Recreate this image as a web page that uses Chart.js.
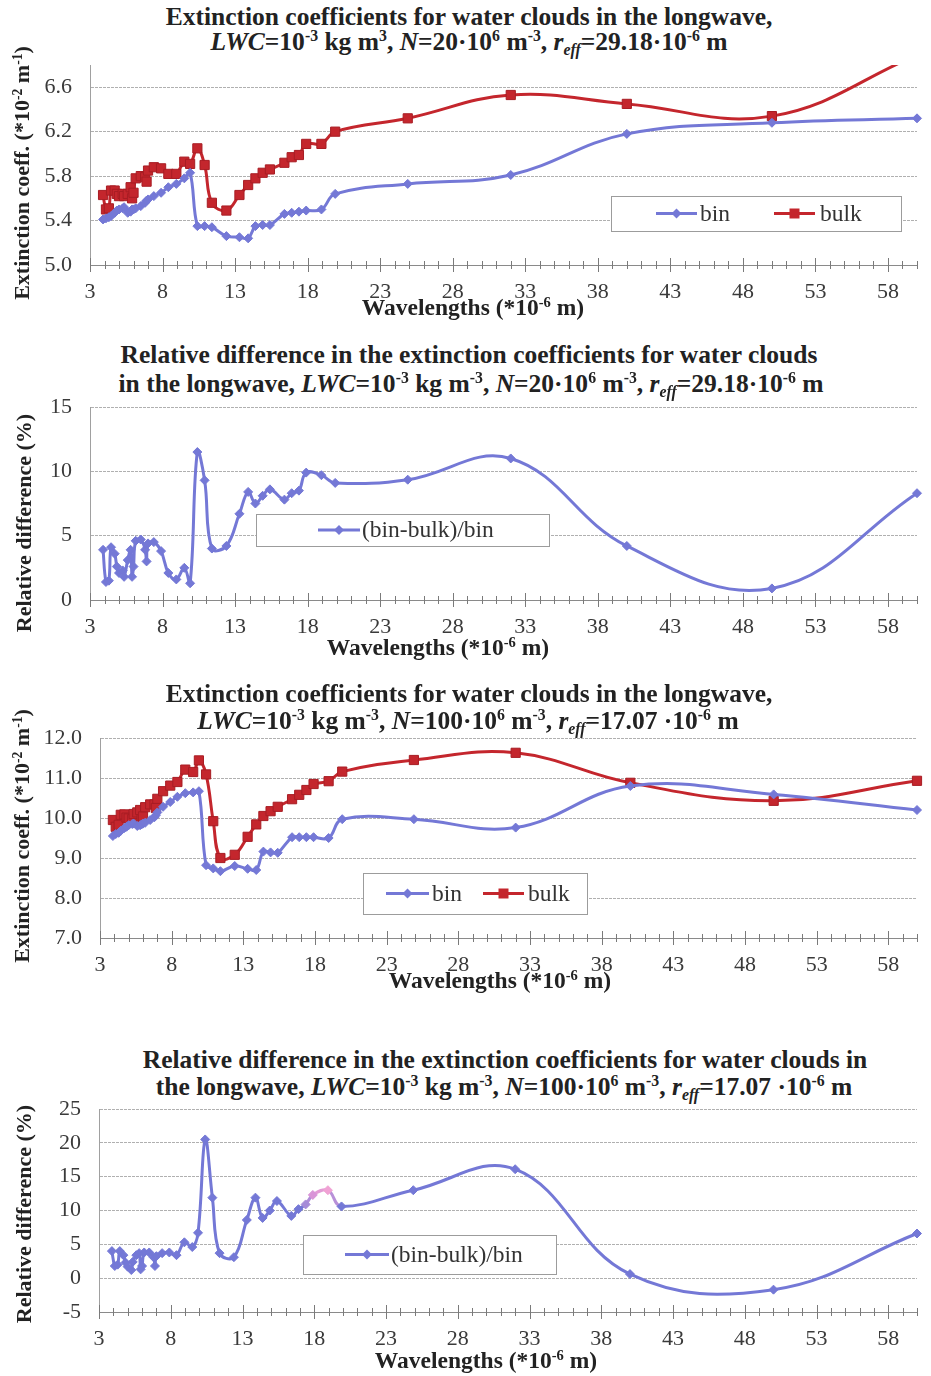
<!DOCTYPE html>
<html lang="en">
<head>
<meta charset="UTF-8">
<title>Extinction coefficients for water clouds in the longwave</title>
<script src="https://cdn.jsdelivr.net/npm/chart.js"></script>
<style>
  body { margin: 0; background: #fff; }
  #page { position: relative; width: 931px; height: 1376px; overflow: hidden;
          font-family: "Liberation Serif", "Times New Roman", serif; color: #222; }
  canvas { position: absolute; left: 0; }
  .t  { position: absolute; width: 900px; text-align: center; white-space: nowrap;
        font-weight: bold; font-size: 25.5px; line-height: 25px; }
  .xt { position: absolute; width: 400px; text-align: center; white-space: nowrap;
        font-weight: bold; font-size: 23.5px; line-height: 22px; }
  .yt { position: absolute; width: 320px; height: 22px; text-align: center; white-space: nowrap;
        font-weight: bold; font-size: 22px; line-height: 22px; transform: rotate(-90deg); }
  sup, sub { font-size: 0.62em; line-height: 0; position: relative; vertical-align: baseline; }
  sup { top: -0.55em; }
  sub { top: 0.3em; }
</style>
</head>
<body>
<div id="page">
  <!-- panel 1 -->
  <div class="t" style="left:19px;top:4px">Extinction coefficients for water clouds in the longwave,</div>
  <div class="t" style="left:19px;top:29px"><i>LWC</i>=10<sup>-3</sup> kg m<sup>3</sup>, <i>N</i>=20·10<sup>6</sup> m<sup>-3</sup>, <i>r<sub>eff</sub></i>=29.18·10<sup>-6</sup> m</div>
  <canvas id="c1" width="931" height="320" style="top:0;width:931px;height:320px"></canvas>
  <div class="yt" style="left:-138px;top:162px">Extinction coeff. (*10<sup>-2</sup> m<sup>-1</sup>)</div>
  <div class="xt" style="left:273px;top:296px">Wavelengths (*10<sup>-6</sup> m)</div>

  <!-- panel 2 -->
  <div class="t" style="left:19px;top:342px">Relative difference in the extinction coefficients for water clouds</div>
  <div class="t" style="left:21px;top:371px">in the longwave, <i>LWC</i>=10<sup>-3</sup> kg m<sup>-3</sup>, <i>N</i>=20·10<sup>6</sup> m<sup>-3</sup>, <i>r<sub>eff</sub></i>=29.18·10<sup>-6</sup> m</div>
  <canvas id="c2" width="931" height="330" style="top:330px;width:931px;height:330px"></canvas>
  <div class="yt" style="left:-136px;top:512px">Relative difference (%)</div>
  <div class="xt" style="left:238px;top:636px">Wavelengths (*10<sup>-6</sup> m)</div>

  <!-- panel 3 -->
  <div class="t" style="left:19px;top:681px">Extinction coefficients for water clouds in the longwave,</div>
  <div class="t" style="left:18px;top:708px"><i>LWC</i>=10<sup>-3</sup> kg m<sup>-3</sup>, <i>N</i>=100·10<sup>6</sup> m<sup>-3</sup>, <i>r<sub>eff</sub></i>=17.07 ·10<sup>-6</sup> m</div>
  <canvas id="c3" width="931" height="330" style="top:670px;width:931px;height:330px"></canvas>
  <div class="yt" style="left:-138px;top:825px">Extinction coeff. (*10<sup>-2</sup> m<sup>-1</sup>)</div>
  <div class="xt" style="left:300px;top:969px">Wavelengths (*10<sup>-6</sup> m)</div>

  <!-- panel 4 -->
  <div class="t" style="left:55px;top:1047px">Relative difference in the extinction coefficients for water clouds in</div>
  <div class="t" style="left:54px;top:1074px">the longwave, <i>LWC</i>=10<sup>-3</sup> kg m<sup>-3</sup>, <i>N</i>=100·10<sup>6</sup> m<sup>-3</sup>, <i>r<sub>eff</sub></i>=17.07 ·10<sup>-6</sup> m</div>
  <canvas id="c4" width="931" height="336" style="top:1040px;width:931px;height:336px"></canvas>
  <div class="yt" style="left:-136px;top:1203px">Relative difference (%)</div>
  <div class="xt" style="left:286px;top:1349px">Wavelengths (*10<sup>-6</sup> m)</div>
</div>

<script>
// wavelength grid (*10^-6 m), shared by every panel
const wavelengths = [3.9, 4.1, 4.3, 4.45, 4.7, 4.85, 5.0, 5.25, 5.35, 5.6, 5.8, 5.9, 6.0, 6.15, 6.5,
  6.8, 6.9, 7.0, 7.4, 7.9, 8.4, 8.95, 9.5, 9.9, 10.4, 10.9, 11.4, 12.4, 13.3, 13.9, 14.4, 14.9,
  15.4, 16.4, 16.9, 17.4, 17.9, 18.95, 19.9, 24.9, 32, 40, 50, 60];

// N = 20e6 m^-3, r_eff = 29.18 um
const bin20 = [5.41, 5.42, 5.43, 5.44, 5.47, 5.49, 5.50, 5.51, 5.52, 5.47, 5.48, 5.50, 5.50, 5.51, 5.53,
  5.56, 5.58, 5.59, 5.62, 5.65, 5.70, 5.73, 5.78, 5.83, 5.35, 5.35, 5.34, 5.26, 5.25, 5.24, 5.35, 5.36,
  5.36, 5.46, 5.47, 5.48, 5.49, 5.50, 5.64, 5.73, 5.81, 6.18, 6.28, 6.32];
const bulk20 = [5.63, 5.50, 5.51, 5.67, 5.67, 5.64, 5.62, 5.64, 5.62, 5.64, 5.70, 5.60, 5.65, 5.78, 5.80,
  5.79, 5.75, 5.85, 5.88, 5.87, 5.82, 5.82, 5.93, 5.91, 6.05, 5.90, 5.56, 5.49, 5.63, 5.72, 5.78, 5.83,
  5.86, 5.92, 5.97, 5.99, 6.09, 6.09, 6.20, 6.32, 6.53, 6.45, 6.34, 6.89];
const rel20 = [3.9, 1.4, 1.5, 4.1, 3.6, 2.6, 2.1, 2.3, 1.8, 3.1, 3.9, 1.8, 2.6, 4.6, 4.7,
  3.9, 3.0, 4.4, 4.5, 3.8, 2.1, 1.6, 2.5, 1.3, 11.5, 9.3, 4.0, 4.2, 6.7, 8.4, 7.5, 8.1,
  8.6, 7.8, 8.3, 8.5, 9.9, 9.7, 9.1, 9.35, 11.0, 4.2, 0.9, 8.3];

// N = 100e6 m^-3, r_eff = 17.07 um
const bin100 = [9.55, 9.60, 9.63, 9.68, 9.75, 9.78, 9.82, 9.85, 9.86, 9.80, 9.82, 9.84, 9.86, 9.88, 9.95,
  10.02, 10.07, 10.14, 10.28, 10.40, 10.53, 10.62, 10.64, 10.67, 8.82, 8.74, 8.67, 8.80, 8.73, 8.70, 9.16, 9.14,
  9.13, 9.52, 9.52, 9.52, 9.52, 9.50, 9.97, 9.97, 9.76, 10.80, 10.59, 10.20];
const bulk100 = [9.95, 9.78, 9.83, 10.08, 10.09, 10.01, 9.99, 9.97, 10.10, 10.14, 10.20, 9.97, 10.04, 10.27, 10.34,
  10.34, 10.25, 10.48, 10.67, 10.81, 10.90, 11.21, 11.15, 11.44, 11.09, 9.92, 9.00, 9.08, 9.53, 9.84, 10.05, 10.17,
  10.28, 10.47, 10.58, 10.70, 10.85, 10.92, 11.16, 11.45, 11.63, 10.88, 10.43, 10.93];
const rel100 = [4.0, 1.8, 2.0, 4.0, 3.4, 2.3, 1.7, 1.2, 2.4, 3.4, 3.7, 1.3, 1.8, 3.8, 3.8,
  3.1, 1.8, 3.25, 3.7, 3.8, 3.4, 5.3, 4.6, 6.7, 20.5, 11.9, 3.7, 3.1, 8.6, 11.9, 8.9, 10.0,
  11.4, 9.2, 10.2, 10.9, 12.3, 13.0, 10.6, 13.0, 16.1, 0.6, -1.7, 6.6];

// labelled ticks
const xLabels = [3, 8, 13, 18, 23, 28, 33, 38, 43, 48, 53, 58];
const yLabels1 = ['5.0', '5.4', '5.8', '6.2', '6.6'];
const yLabels2 = ['0', '5', '10', '15'];
const yLabels3 = ['7.0', '8.0', '9.0', '10.0', '11.0', '12.0'];
const yLabels4 = ['-5', '0', '5', '10', '15', '20', '25'];

const BLUE = '#7478d6';
const RED = '#c4262d';
const FONT = '"Liberation Serif", "Times New Roman", serif';

const pts = ys => wavelengths.map((w, i) => ({ x: w, y: ys[i] }));

// "+" shaped ticks across the x axis, longer at the labelled ones
const crossTicks = {
  id: 'crossTicks',
  afterDatasetsDraw(chart) {
    const sx = chart.scales.x, y0 = chart.chartArea.bottom, ctx = chart.ctx;
    ctx.save();
    ctx.strokeStyle = '#7a7a7a';
    ctx.lineWidth = 1;
    sx.ticks.forEach(t => {
      const px = Math.round(sx.getPixelForValue(t.value)) + 0.5;
      const len = xLabels.includes(t.value) ? 7 : 4;
      ctx.beginPath();
      ctx.moveTo(px, y0 - len);
      ctx.lineTo(px, y0 + len);
      ctx.stroke();
    });
    ctx.restore();
  }
};

// framed legend sitting inside the plot
const boxLegend = {
  id: 'boxLegend',
  beforeDatasetsDraw(chart, args, opts) {
    if (!opts.box) return;
    const ctx = chart.ctx;
    const [x, y, w, h] = opts.box;
    const cy = y + h / 2;
    ctx.save();
    ctx.fillStyle = '#fff';
    ctx.fillRect(x, y, w, h);
    ctx.strokeStyle = '#9c9c9c';
    ctx.lineWidth = 1;
    ctx.strokeRect(x + 0.5, y + 0.5, w, h);
    ctx.font = '23.5px ' + FONT;
    ctx.textBaseline = 'middle';
    chart.data.datasets.forEach((ds, i) => {
      const it = opts.items[i];
      ctx.strokeStyle = ds.borderColor;
      ctx.lineWidth = 3;
      ctx.beginPath();
      ctx.moveTo(it.x1, cy);
      ctx.lineTo(it.x2, cy);
      ctx.stroke();
      const mx = (it.x1 + it.x2) / 2;
      ctx.fillStyle = ds.borderColor;
      ctx.beginPath();
      if (ds.pointStyle === 'rect') {
        ctx.rect(mx - 5, cy - 5, 10, 10);
      } else {
        ctx.moveTo(mx, cy - 5); ctx.lineTo(mx + 5, cy); ctx.lineTo(mx, cy + 5); ctx.lineTo(mx - 5, cy);
        ctx.closePath();
      }
      ctx.fill();
      ctx.fillStyle = '#333';
      ctx.fillText(ds.label, it.tx, cy + 1);
    });
    ctx.restore();
  }
};

function binSet(data, extra) {
  return Object.assign({
    label: 'bin', data, borderColor: BLUE, backgroundColor: BLUE, borderWidth: 3,
    pointStyle: 'rectRot', pointRadius: 4.5, pointBorderWidth: 1, pointBackgroundColor: BLUE,
    tension: 0.4, clip: { left: 8, right: 8, top: 0, bottom: 8 }
  }, extra || {});
}
function bulkSet(data) {
  return {
    label: 'bulk', data, borderColor: RED, backgroundColor: RED, borderWidth: 3,
    pointStyle: 'rect', pointRadius: 6.5, pointBorderWidth: 1, pointBorderColor: '#a81d24',
    pointBackgroundColor: RED, tension: 0.4, clip: { left: 8, right: 8, top: 0, bottom: 8 }
  };
}

function panel(id, p) {
  const canvas = document.getElementById(id);
  return new Chart(canvas, {
    type: 'line',
    data: { datasets: p.datasets },
    plugins: [crossTicks, boxLegend],
    options: {
      responsive: false,
      animation: false,
      layout: { padding: { top: p.top, right: 931 - p.right, left: 0, bottom: 0 } },
      plugins: {
        legend: { display: false },
        tooltip: { enabled: false },
        boxLegend: p.legend
      },
      scales: {
        x: {
          type: 'linear', min: 3, max: 60,
          afterFit: s => { s.height = p.axisH; },
          grid: { drawOnChartArea: false, drawTicks: false },
          border: { display: true, color: '#8a8a8a' },
          ticks: {
            stepSize: 1, autoSkip: false, maxRotation: 0, padding: 14,
            color: '#3a3a3a', font: { family: FONT, size: 22 },
            callback: v => xLabels.includes(v) ? String(v) : ''
          }
        },
        y: {
          min: p.ymin, max: p.ymax,
          afterFit: s => { s.width = p.left; },
          grid: { color: '#b0b0b0', drawTicks: false },
          border: { display: true, color: '#a0a0a0', dash: [3, 1] },
          ticks: {
            stepSize: p.ystep, padding: 18, color: '#3a3a3a', font: { family: FONT, size: 22 },
            callback: v => {
              const s = v.toFixed(p.dec);
              return p.ylabels.includes(s) ? s : '';
            }
          }
        }
      }
    }
  });
}

panel('c1', {
  top: 65, axisH: 55, left: 90, right: 920, ymin: 5, ymax: 6.8, ystep: 0.2, dec: 1, ylabels: yLabels1,
  datasets: [binSet(pts(bin20)), bulkSet(pts(bulk20))],
  legend: { box: [611, 196, 290, 35], items: [{ x1: 656, x2: 697, tx: 700 }, { x1: 774, x2: 815, tx: 820 }] }
});

panel('c2', {
  top: 77, axisH: 60, left: 90, right: 927, ymin: 0, ymax: 15, ystep: 5, dec: 0, ylabels: yLabels2,
  datasets: [binSet(pts(rel20), { label: '(bin-bulk)/bin' })],
  legend: { box: [256, 184, 293, 32], items: [{ x1: 318, x2: 360, tx: 362 }] }
});

panel('c3', {
  top: 68, axisH: 62, left: 100, right: 922, ymin: 7, ymax: 12, ystep: 1, dec: 1, ylabels: yLabels3,
  datasets: [binSet(pts(bin100)), bulkSet(pts(bulk100))],
  legend: { box: [363, 203, 224, 41], items: [{ x1: 386, x2: 429, tx: 432 }, { x1: 483, x2: 524, tx: 528 }] }
});

// a few points near 18 um carry a pink tint
const tintPoint = { 35: '#a58bd8', 36: '#d995d8', 37: '#f0a2d4' };
const tintSeg = { 35: '#b08dd8', 36: '#e39bd6', 37: '#b890d8' };
panel('c4', {
  top: 69, axisH: 64, left: 99, right: 926, ymin: -5, ymax: 25, ystep: 5, dec: 0, ylabels: yLabels4,
  datasets: [binSet(pts(rel100), {
    label: '(bin-bulk)/bin',
    pointBackgroundColor: c => tintPoint[c.dataIndex] || BLUE,
    pointBorderColor: c => tintPoint[c.dataIndex] || BLUE,
    segment: { borderColor: c => tintSeg[c.p0DataIndex] || BLUE }
  })],
  legend: { box: [303, 195, 253, 39], items: [{ x1: 345, x2: 389, tx: 391 }] }
});
</script>
</body>
</html>
